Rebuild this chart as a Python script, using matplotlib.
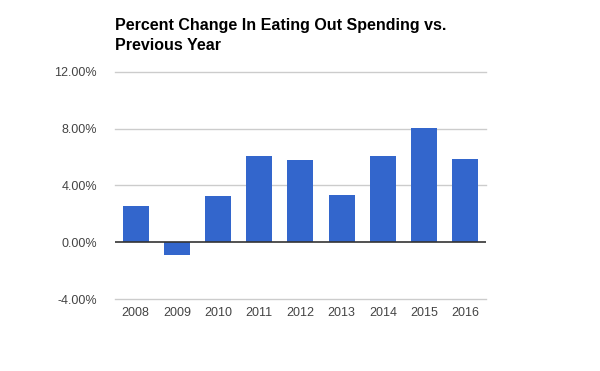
import numpy as np
import matplotlib.pyplot as plt
from matplotlib.ticker import FuncFormatter

years = ['2008', '2009', '2010', '2011', '2012', '2013', '2014', '2015', '2016']
pct_change = [2.55, -0.89, 3.25, 6.06, 5.78, 3.32, 6.06, 8.02, 5.85]
y_ticks = [-4, 0, 4, 8, 12]

plt.rcParams['font.family'] = ['Liberation Sans', 'DejaVu Sans']

fig = plt.figure(figsize=(6, 3.71), dpi=100)
ax = fig.add_axes([0.1917, 0.194, 0.618, 0.612])

x = np.arange(len(years))
ax.bar(x, pct_change, width=0.63, color='#3366cc', zorder=3)

ax.set_xlim(-0.5, len(years) - 0.5)
ax.set_ylim(-4, 12)
ax.set_yticks(y_ticks)
ax.yaxis.set_major_formatter(FuncFormatter(lambda v, p: '%.2f%%' % v))
ax.set_xticks(x)
ax.set_xticklabels(years)

# gridlines drawn unclipped so the edge ones stay visible
for t in y_ticks:
    if t != 0:
        ax.axhline(t, color='#cccccc', linewidth=1, zorder=0, clip_on=False)
ax.axhline(0, color='#333333', linewidth=1.2, zorder=4)
for s in ax.spines.values():
    s.set_visible(False)
ax.tick_params(axis='both', length=0, labelsize=9, colors='#444444')
ax.tick_params(axis='y', pad=13)
ax.tick_params(axis='x', pad=6)

fig.text(0.1917, 0.952, 'Percent Change In Eating Out Spending vs.\nPrevious Year',
         fontsize=11.5, fontweight='bold', color='#000000', ha='left', va='top',
         linespacing=1.45)

fig.savefig('out.png', dpi=100)
